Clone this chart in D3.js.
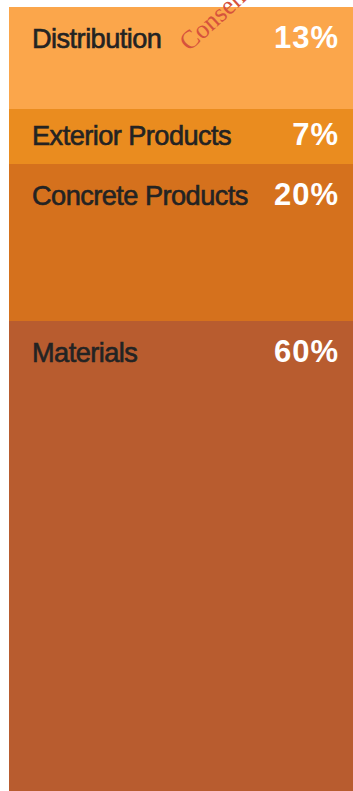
<!DOCTYPE html>
<html>
<head>
<meta charset="utf-8">
<script src="https://cdn.jsdelivr.net/npm/d3@7"></script>
<style>
  html, body { margin: 0; padding: 0; background: #fff; }
  svg { display: block; }
</style>
</head>
<body>
<svg id="chart" width="353" height="791"></svg>
<script>
// Segment shares of the single stacked column (percent)
const segments = ["Distribution", "Exterior Products", "Concrete Products", "Materials"];
const shares = [13, 7, 20, 60];
const shareLabels = ["13%", "7%", "20%", "60%"];
const fills = ["#FBA64B", "#EA8C1F", "#D5711D", "#B85C2F"];

const W = 353, H = 791;
const margin = { top: 7, right: 0, bottom: 0, left: 9 };

const svg = d3.select("#chart");

const total = d3.sum(shares);
const ends = d3.cumsum(shares);
const rows = segments.map((name, i) => ({
  name,
  value: shares[i],
  label: shareLabels[i],
  fill: fills[i],
  y0: ends[i] - shares[i],
  y1: ends[i]
}));

// rounded range keeps segment edges on whole pixels so no seams show
const y = d3.scaleLinear().domain([0, total]).rangeRound([margin.top, H - margin.bottom]);
const x = d3.scaleBand().domain(["mix"]).range([margin.left, W - margin.right]).padding(0);

const g = svg.append("g");

g.selectAll("rect.seg")
  .data(rows)
  .join("rect")
  .attr("class", "seg")
  .attr("x", x("mix"))
  .attr("width", x.bandwidth())
  .attr("y", d => y(d.y0))
  .attr("height", d => y(d.y1) - y(d.y0))
  .attr("fill", d => d.fill)
  .attr("shape-rendering", "crispEdges");

// baseline sits a fixed distance below the segment top, or centred in short segments
const baseline = d => {
  const top = y(d.y0), h = y(d.y1) - y(d.y0);
  return top + Math.min(41, h / 2 + 8);
};

g.selectAll("text.name")
  .data(rows)
  .join("text")
  .attr("class", "name")
  .attr("x", x("mix") + 23)
  .attr("y", baseline)
  .attr("font-family", "'Liberation Sans', Arial, Helvetica, sans-serif")
  .attr("font-size", 27.2)
  .attr("letter-spacing", -0.55)
  .attr("fill", "#232323")
  .attr("stroke", "#232323")
  .attr("stroke-width", 0.6)
  .text(d => d.name);

g.selectAll("text.pct")
  .data(rows)
  .join("text")
  .attr("class", "pct")
  .attr("x", W - 14)
  .attr("y", baseline)
  .attr("text-anchor", "end")
  .attr("font-family", "'Liberation Sans', Arial, Helvetica, sans-serif")
  .attr("font-weight", "bold")
  .attr("font-size", 31)
  .attr("letter-spacing", 1)
  .attr("fill", "#ffffff")
  .text(d => d.label);

// faint red stamp across the top corner
svg.append("text")
  .attr("transform", "translate(189,52) rotate(-42)")
  .attr("font-family", "'Liberation Serif', 'DejaVu Serif', serif")
  .attr("font-size", 26)
  .attr("fill", "#D6523C")
  .text("Consensus");
</script>
</body>
</html>
